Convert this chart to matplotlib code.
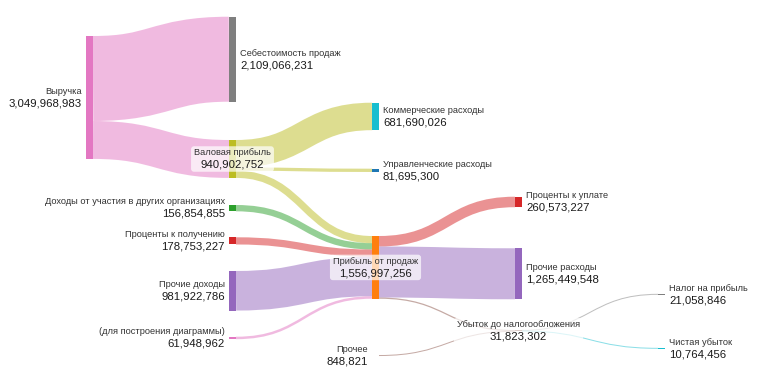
import matplotlib
matplotlib.use('Agg')
import matplotlib.pyplot as plt
from matplotlib.path import Path
from matplotlib.patches import PathPatch, Rectangle, FancyBboxPatch
from matplotlib.transforms import Bbox, IdentityTransform
from matplotlib.colors import to_rgba

plt.rcParams['font.family'] = ['Liberation Sans', 'DejaVu Sans']

# ---------------- data ----------------
nodes = ["Выручка", "Себестоимость продаж", "Валовая прибыль", "Коммерческие расходы",
         "Управленческие расходы", "Прибыль от продаж", "Доходы от участия в других организациях",
         "Проценты к получению", "Прочие доходы", "(для построения диаграммы)",
         "Проценты к уплате", "Прочие расходы", "Убыток до налогообложения", "Прочее",
         "Налог на прибыль", "Чистая убыток"]
link_source = [0, 0, 2, 2, 2, 6, 7, 8, 9, 5, 5, 5, 13, 12, 12]
link_target = [1, 2, 3, 4, 5, 5, 5, 5, 5, 10, 11, 12, 12, 14, 15]
link_value = [2109066231, 940902752, 681690026, 81695300, 177517426, 156854855,
              178753227, 981922786, 61948962, 260573227, 1265449548, 30974481,
              848821, 21058846, 10764456]

# ---------------- style / layout ----------------
node_colors = ['#e377c2', '#7f7f7f', '#bcbd22', '#17becf', '#1f77b4', '#ff7f0e', '#2ca02c',
               '#d62728', '#9467bd', '#e377c2', '#d62728', '#9467bd', '#8c564b', '#8c564b',
               '#7f7f7f', '#17becf']
link_colors = ['#e377c2', '#e377c2', '#bcbd22', '#bcbd22', '#bcbd22', '#2ca02c', '#d62728',
               '#9467bd', '#e377c2', '#d62728', '#9467bd', '#8c564b', '#8c564b', '#7f7f7f',
               '#17becf']
node_col = [0, 1, 1, 2, 2, 2, 1, 1, 1, 1, 3, 3, 3, 2, 4, 4]
node_top = [0.0950, 0.0441, 0.3694, 0.2710, 0.4451, 0.6227, 0.5409, 0.6261, 0.7150, 0.8884,
            0.5190, 0.6551, 0.8707, 0.9380, 0.7755, 0.9185]

W_PX, H_PX = 758, 379
PX_PER_BN = 40.3          # vertical scale: pixels per billion
COL_PX = 143.0            # horizontal spacing of columns in pixels
LEFT_PX = 86.0            # left edge of first column
NODE_W_PX = 7.0
NAME_FS, VALUE_FS = 6.7, 8.2
LINK_ALPHA = 0.5

fig = plt.figure(figsize=(W_PX / 100, H_PX / 100), dpi=100)
ax = fig.add_axes([0, 0, 1, 1])
ax.axis('off')
H = H_PX / PX_PER_BN
ax.set_xlim(-LEFT_PX / COL_PX, (W_PX - LEFT_PX) / COL_PX)
ax.set_ylim(H, 0)
nw = NODE_W_PX / COL_PX

n = len(nodes)
vin = [0.0] * n
vout = [0.0] * n
for s, t, v in zip(link_source, link_target, link_value):
    vout[s] += v
    vin[t] += v
node_val = [max(a, b) for a, b in zip(vin, vout)]
tops = [f * H for f in node_top]
heights = [v / 1e9 for v in node_val]

# links
off_out = [0.0] * n
off_in = [0.0] * n
for s, t, v, c in zip(link_source, link_target, link_value, link_colors):
    h = v / 1e9
    y0 = tops[s] + off_out[s] + h / 2
    y1 = tops[t] + off_in[t] + h / 2
    off_out[s] += h
    off_in[t] += h
    x0 = node_col[s] + nw
    x1 = node_col[t]
    xm = (x0 + x1) / 2
    path = Path([(x0, y0), (xm, y0), (xm, y1), (x1, y1)],
                [Path.MOVETO, Path.CURVE4, Path.CURVE4, Path.CURVE4])
    lw = max(h * PX_PER_BN, 1.0) * 72 / 100
    ax.add_patch(PathPatch(path, fill=False, edgecolor=to_rgba(c, LINK_ALPHA),
                           linewidth=lw, capstyle='butt', zorder=1))

# nodes
for i in range(n):
    ax.add_patch(Rectangle((node_col[i], tops[i]), nw, max(heights[i], 0.5 / PX_PER_BN),
                           facecolor=node_colors[i], edgecolor='none', zorder=2))

# labels
boxed = []
for i in range(n):
    cy = tops[i] + heights[i] / 2
    if vout[i] == 0:
        x, ha, dx = node_col[i] + nw, 'left', 4
    elif vin[i] == 0:
        x, ha, dx = node_col[i], 'right', -4
    else:
        x, ha, dx = node_col[i] + nw / 2, 'center', 0
    t1 = ax.annotate(nodes[i], (x, cy), xytext=(dx * 0.72, 6.2 * 0.72), textcoords='offset points',
                     ha=ha, va='center', fontsize=NAME_FS, color='#333333', zorder=5)
    t2 = ax.annotate(f"{node_val[i]:,.0f}", (x, cy), xytext=(dx * 0.72, -5.8 * 0.72),
                     textcoords='offset points', ha=ha, va='center', fontsize=VALUE_FS,
                     color='#1a1a1a', zorder=5)
    if ha == 'center':
        boxed.append((t1, t2))

fig.canvas.draw()
r = fig.canvas.get_renderer()
for t1, t2 in boxed:
    bb = Bbox.union([t1.get_window_extent(r), t2.get_window_extent(r)])
    pad = 3
    ax.add_patch(FancyBboxPatch((bb.x0 - pad, bb.y0 - pad + 1), bb.width + 2 * pad, bb.height + 2 * pad - 2,
                                boxstyle='round,pad=0,rounding_size=3', transform=IdentityTransform(),
                                facecolor='white', alpha=0.7, edgecolor='none', zorder=3))

fig.savefig('out.png', dpi=100)
